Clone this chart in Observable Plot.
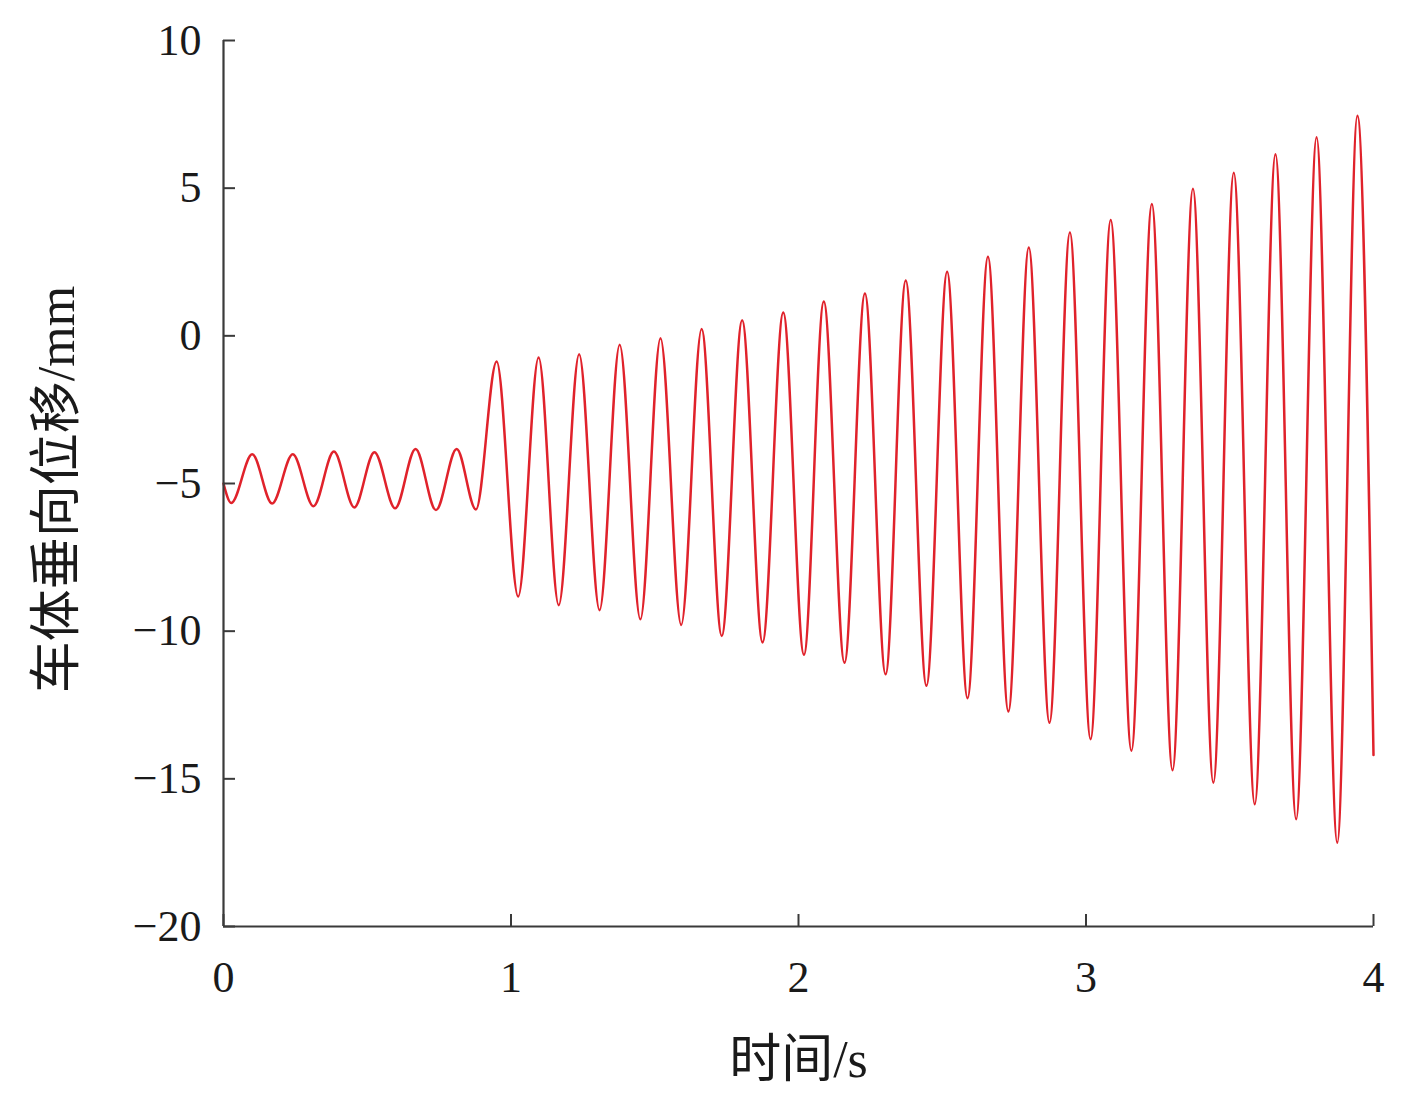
<!DOCTYPE html>
<html>
<head>
<meta charset="utf-8">
<script src="https://cdn.jsdelivr.net/npm/d3@7"></script>
<script src="https://cdn.jsdelivr.net/npm/@observablehq/plot@0.6"></script>
<style>
  html, body { margin: 0; padding: 0; background: #fff; }
  #chart { width: 1415px; height: 1117px; }
</style>
</head>
<body>
<div id="chart"></div>
<script>
// Extrema (peaks / troughs) of the vertical body displacement
const times = [
  0.000, 0.027, 0.100, 0.169, 0.241, 0.313, 0.384, 0.455, 0.525, 0.597,
  0.668, 0.739, 0.811, 0.878, 0.950, 1.025, 1.096, 1.166, 1.237, 1.308,
  1.378, 1.450, 1.520, 1.592, 1.663, 1.733, 1.804, 1.875, 1.947, 2.019,
  2.088, 2.160, 2.231, 2.303, 2.373, 2.445, 2.517, 2.588, 2.659, 2.730,
  2.801, 2.873, 2.944, 3.016, 3.086, 3.158, 3.229, 3.301, 3.372, 3.443,
  3.514, 3.587, 3.659, 3.731, 3.802, 3.874, 3.944, 4.000
];
const displacement = [
  -5.00, -5.66, -4.01, -5.68, -4.01, -5.77, -3.92, -5.81, -3.94, -5.84,
  -3.83, -5.90, -3.83, -5.88, -0.87, -8.83, -0.73, -9.12, -0.62, -9.29,
  -0.30, -9.60, -0.08, -9.79, 0.23, -10.16, 0.53, -10.38, 0.79, -10.80,
  1.16, -11.07, 1.43, -11.46, 1.87, -11.85, 2.17, -12.27, 2.68, -12.72,
  2.99, -13.10, 3.50, -13.66, 3.92, -14.05, 4.46, -14.71, 4.98, -15.13,
  5.52, -15.86, 6.15, -16.37, 6.72, -17.16, 7.45, -14.19
];
const xTicks = [0, 1, 2, 3, 4];
const yTicks = [-20, -15, -10, -5, 0, 5, 10];
const xLabel = "时间/s";
const yLabel = "车体垂向位移/mm";

const data = times.map((t, i) => ({t, v: displacement[i]}));

const W = 1415, H = 1117;
const mL = 223, mR = 42, mT = 40, mB = 191;
const pw = W - mL - mR, ph = H - mT - mB;
const tick = 12;
const axisColor = "#3a3a3a";
const fmt = d => (d < 0 ? "\u2212" : "") + Math.abs(d);

const chart = Plot.plot({
  width: W, height: H,
  marginLeft: mL, marginRight: mR, marginTop: mT, marginBottom: mB,
  style: {
    fontFamily: '"Liberation Serif", "Noto Sans CJK SC", serif',
    fontSize: "44px",
    color: "#1a1a1a",
    background: "#ffffff",
    overflow: "visible"
  },
  x: {domain: [0, 4]},
  y: {domain: [-20, 10]},
  marks: [
    Plot.line(data, {x: "t", y: "v", stroke: "#e0222b", strokeWidth: 2.5, curve: "monotone-x"}),
    Plot.ruleY([-20], {stroke: axisColor, strokeWidth: 2.2}),
    Plot.ruleX([0], {stroke: axisColor, strokeWidth: 2.2}),
    Plot.ruleY(yTicks, {stroke: axisColor, strokeWidth: 2, insetRight: pw - tick}),
    Plot.ruleX(xTicks, {stroke: axisColor, strokeWidth: 2, insetTop: ph - tick}),
    Plot.axisX(xTicks, {tickSize: 0, tickPadding: 34, label: null, fontSize: 44, tickFormat: fmt}),
    Plot.axisY(yTicks, {tickSize: 0, tickPadding: 22, label: null, fontSize: 44, tickFormat: fmt}),
    Plot.text([xLabel], {frameAnchor: "bottom", dy: 150, fontSize: 52, fill: "#1a1a1a"}),
    Plot.text([yLabel], {frameAnchor: "left", textAnchor: "middle", rotate: -90, dx: -166, dy: 6, fontSize: 52, fill: "#1a1a1a"})
  ]
});
document.getElementById("chart").appendChild(chart);
</script>
</body>
</html>
